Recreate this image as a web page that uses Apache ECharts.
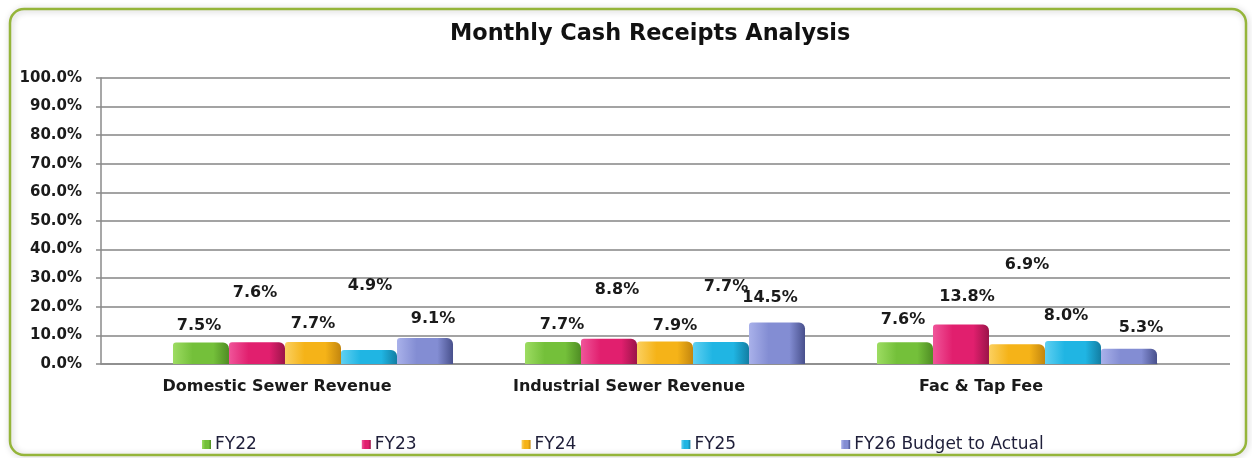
<!DOCTYPE html>
<html>
<head>
<meta charset="utf-8">
<script src="https://cdn.jsdelivr.net/npm/echarts@6/dist/echarts.min.js"></script>
<style>
  html, body { margin: 0; padding: 0; background: #fff; }
  #chart { width: 1252px; height: 458px; }
</style>
</head>
<body>
<div id="chart"></div>
<script>
var dom = document.getElementById("chart");
var myChart = echarts.init(dom);

// data
var categories = ['Domestic Sewer Revenue', 'Industrial Sewer Revenue', 'Fac & Tap Fee'];
var seriesNames = ['FY22', 'FY23', 'FY24', 'FY25', 'FY26 Budget to Actual'];
var fy22 = [7.5, 7.7, 7.6];
var fy23 = [7.6, 8.8, 13.8];
var fy24 = [7.7, 7.9, 6.9];
var fy25 = [4.9, 7.7, 8.0];
var fy26 = [9.1, 14.5, 5.3];
var yTicks = [0, 10, 20, 30, 40, 50, 60, 70, 80, 90, 100];

// look
var colors = [
  ['#9ddc62', '#74c03a', '#4f8d24'],
  ['#f0559a', '#e11f6e', '#9b1449'],
  ['#fbd060', '#f5b318', '#c3860e'],
  ['#5fd0f2', '#20b5e3', '#137ea3'],
  ['#a9b1ea', '#838dd3', '#48508c']
];
// excel placed some labels away from their bars: [dx, dy] per series / category
var labelNudge = [
  [[-2, -4], [9, -4], [-2, -9]],
  [[-2, -36], [8, -36], [6, -15]],
  [[0, -5], [10, -3], [10, -66]],
  [[1, -51], [5, -42], [-7, -12]],
  [[8, -6], [-7, -12], [12, -8]]
];
var allValues = [fy22, fy23, fy24, fy25, fy26];

function pct(v) { return Number(v).toFixed(1) + '%'; }

var series = [];
for (var s = 0; s < seriesNames.length; s++) {
  var c = colors[s];
  var items = [];
  for (var i = 0; i < categories.length; i++) {
    items.push({ value: allValues[s][i], label: { offset: labelNudge[s][i] } });
  }
  series.push({
    name: seriesNames[s],
    type: 'bar',
    xAxisIndex: 2,
    yAxisIndex: 2,
    barGap: '0%',
    barCategoryGap: '20.45%',
    data: items,
    itemStyle: {
      borderRadius: [3, 6, 0, 0],
      color: new echarts.graphic.LinearGradient(0, 0, 1, 0, [
        { offset: 0, color: c[0] },
        { offset: 0.35, color: c[1] },
        { offset: 0.72, color: c[1] },
        { offset: 1, color: c[2] }
      ])
    },
    label: {
      show: true,
      position: 'top',
      distance: 5,
      formatter: function (p) { return pct(p.value); },
      fontFamily: 'DejaVu Sans',
      fontWeight: 'bold',
      fontSize: 16,
      color: '#1a1a1a'
    }
  });
}

option = {
  backgroundColor: '#fff',
  animation: false,
  title: {
    text: 'Monthly Cash Receipts Analysis',
    left: 445,
    top: 18,
    textStyle: { fontFamily: 'DejaVu Sans', fontWeight: 'bold', fontSize: 22.4, color: '#111' }
  },
  graphic: [{
    type: 'rect',
    shape: { x: 10, y: 9, width: 1236, height: 446, r: 14 },
    style: {
      fill: 'rgba(0,0,0,0)',
      stroke: '#95b53a',
      lineWidth: 2.5,
      shadowBlur: 6,
      shadowColor: 'rgba(0,0,0,0.25)',
      shadowOffsetX: 1,
      shadowOffsetY: 1
    },
    z: -10
  }],
  legend: {
    data: seriesNames,
    left: 197,
    top: 431,
    itemWidth: 9,
    itemHeight: 9,
    itemGap: 105,
    icon: 'rect',
    textStyle: { fontFamily: 'DejaVu Sans', fontSize: 17, color: '#1f1f3a', padding: [0, 0, 0, -1] }
  },
  grid: [
    // gridlines run past the last category, as on the back wall
    { left: 101, right: 22, top: 78, bottom: 94 },
    // axes
    { left: 101, width: 1056, top: 78, bottom: 94 },
    // bars sit toward the right of each category
    { left: 137, width: 1056, top: 78, bottom: 94 }
  ],
  xAxis: [
    { gridIndex: 0, type: 'category', data: categories, show: false },
    {
      gridIndex: 1,
      type: 'category',
      data: categories,
      axisLine: { lineStyle: { color: '#8a8a8a', width: 1.5 } },
      axisTick: { length: 6, lineStyle: { color: '#8a8a8a', width: 1.5 } },
      axisLabel: {
        margin: 15,
        fontFamily: 'DejaVu Sans',
        fontWeight: 'bold',
        fontSize: 16,
        color: '#1a1a1a'
      }
    },
    { gridIndex: 2, type: 'category', data: categories, show: false }
  ],
  yAxis: [
    {
      gridIndex: 0, type: 'value', min: 0, max: 100, interval: 10,
      axisLabel: { show: false },
      axisLine: { show: false },
      axisTick: { show: false },
      splitLine: { lineStyle: { color: '#858585', width: 1.5 } }
    },
    {
      gridIndex: 1, type: 'value', min: yTicks[0], max: yTicks[yTicks.length - 1], interval: 10,
      splitLine: { show: false },
      axisLine: { show: true, lineStyle: { color: '#8a8a8a', width: 1.5 } },
      axisTick: { show: true, length: 5, lineStyle: { color: '#8a8a8a', width: 1.5 } },
      axisLabel: {
        margin: 19,
        formatter: function (v) { return pct(v); },
        fontFamily: 'DejaVu Sans',
        fontWeight: 'bold',
        fontSize: 15,
        color: '#1a1a1a'
      }
    },
    { gridIndex: 2, type: 'value', min: 0, max: 100, show: false, splitLine: { show: false } }
  ],
  series: series
};

if (option && typeof option === "object") {
  myChart.setOption(option, true);
}
</script>
</body>
</html>
